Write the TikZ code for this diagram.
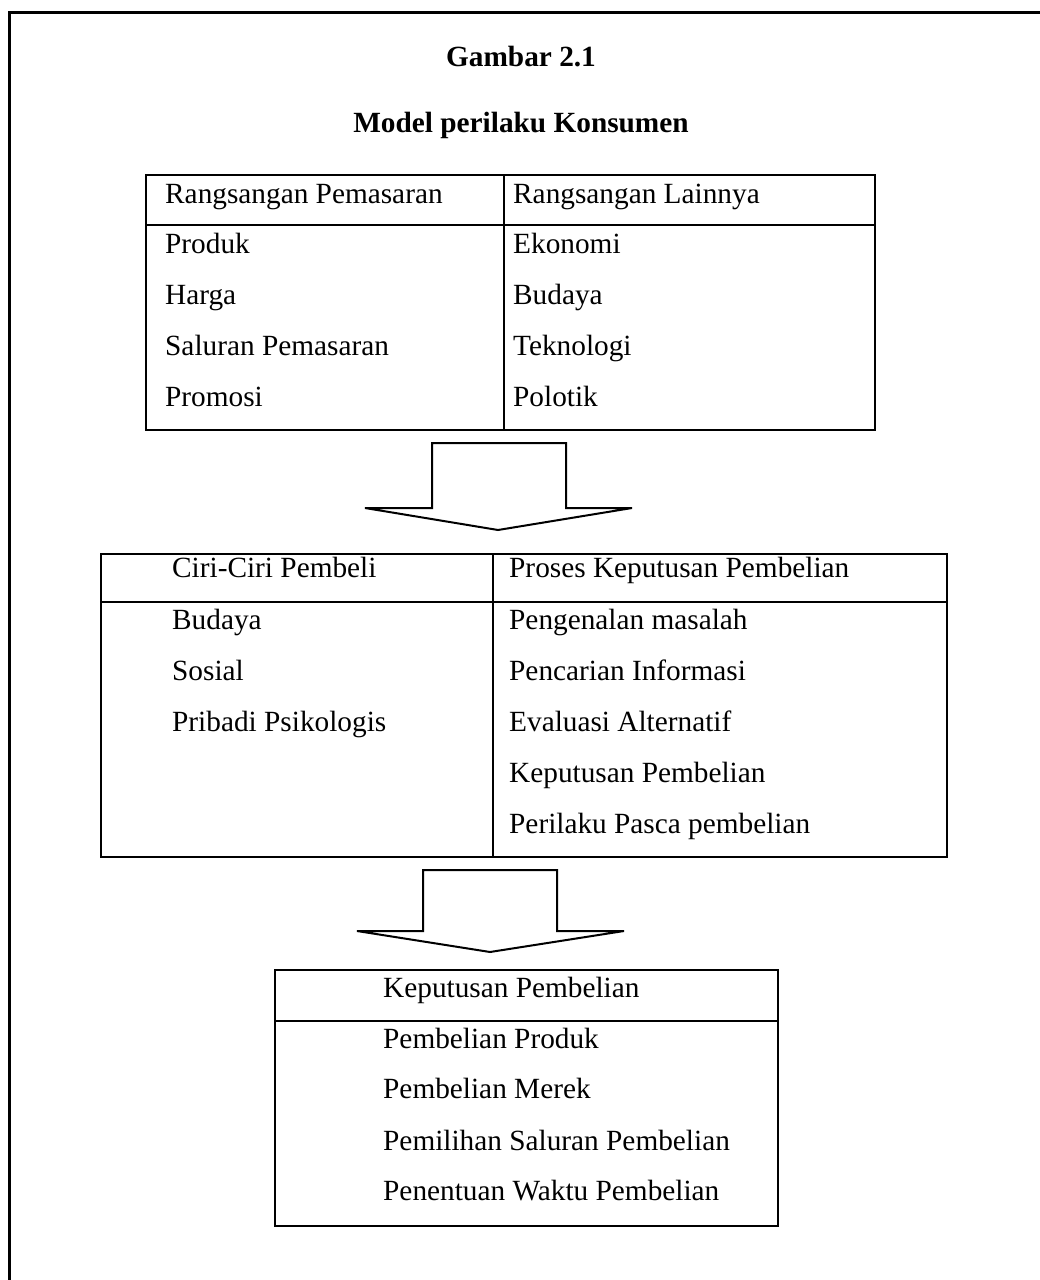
\documentclass[tikz,border=0pt]{standalone}
\usepackage{fontspec}
\setmainfont{Liberation Serif}
\begin{document}
\begin{tikzpicture}[x=1pt,y=-1pt,
  txt/.style={anchor=base west,inner sep=0pt,font=\fontsize{29.3}{35}\selectfont},
  ttl/.style={anchor=base,inner sep=0pt,font=\fontsize{29.3}{35}\selectfont\bfseries},
  tbl/.style={draw,line width=2pt,anchor=north west,inner sep=0pt},
  rule/.style={line width=2pt},
  blockarrow/.style={draw,line width=2pt,line join=miter,fill=white}]
\useasboundingbox (0,0) rectangle (1040,1280);
\draw[line width=3pt] (9,1280) -- (9,12) -- (1040,12);

\node[ttl] (title1) at (521,66) {Gambar 2.1};
\node[ttl] (title2) at (521,132) {Model perilaku Konsumen};

% Table 1
\node[tbl,minimum width=729pt,minimum height=255pt] (t1) at (145,174) {};
\draw[rule] (t1.north west |- 0,225) -- (t1.north east |- 0,225);
\draw[rule] (504,174) -- (504,429);
\node[txt] (t1h1) at (165,203) {Rangsangan Pemasaran};
\node[txt] (t1h2) at (513,203) {Rangsangan Lainnya};
\node[txt] (t1a) at (165,253) {Produk};
\node[txt] (t1b) at (165,304) {Harga};
\node[txt] (t1c) at (165,355) {Saluran Pemasaran};
\node[txt] (t1d) at (165,406) {Promosi};
\node[txt] (t1e) at (513,253) {Ekonomi};
\node[txt] (t1f) at (513,304) {Budaya};
\node[txt] (t1g) at (513,355) {Teknologi};
\node[txt] (t1i) at (513,406) {Polotik};

% Arrow 1
\draw[blockarrow] (432,443) -- (566,443) -- (566,508) -- (632,508) -- (498,530) -- (365,508) -- (432,508) -- cycle;

% Table 2
\node[tbl,minimum width=846pt,minimum height=303pt] (t2) at (100,553) {};
\draw[rule] (t2.north west |- 0,602) -- (t2.north east |- 0,602);
\draw[rule] (493,553) -- (493,856);
\node[txt] (t2h1) at (172,577) {Ciri-Ciri Pembeli};
\node[txt] (t2h2) at (509,577) {Proses Keputusan Pembelian};
\node[txt] (t2a) at (172,629) {Budaya};
\node[txt] (t2b) at (172,680) {Sosial};
\node[txt] (t2c) at (172,731) {Pribadi Psikologis};
\node[txt] (t2d) at (509,629) {Pengenalan masalah};
\node[txt] (t2e) at (509,680) {Pencarian Informasi};
\node[txt] (t2f) at (509,731) {Evaluasi Alternatif};
\node[txt] (t2g) at (509,782) {Keputusan Pembelian};
\node[txt] (t2i) at (509,833) {Perilaku Pasca pembelian};

% Arrow 2
\draw[blockarrow] (423,870) -- (557,870) -- (557,931) -- (624,931) -- (490,952) -- (357,931) -- (423,931) -- cycle;

% Table 3
\node[tbl,minimum width=503pt,minimum height=256pt] (t3) at (274,969) {};
\draw[rule] (t3.north west |- 0,1021) -- (t3.north east |- 0,1021);
\node[txt] (t3h) at (383,997) {Keputusan Pembelian};
\node[txt] (t3a) at (383,1048) {Pembelian Produk};
\node[txt] (t3b) at (383,1098) {Pembelian Merek};
\node[txt] (t3c) at (383,1150) {Pemilihan Saluran Pembelian};
\node[txt] (t3d) at (383,1200) {Penentuan Waktu Pembelian};
\end{tikzpicture}
\end{document}
